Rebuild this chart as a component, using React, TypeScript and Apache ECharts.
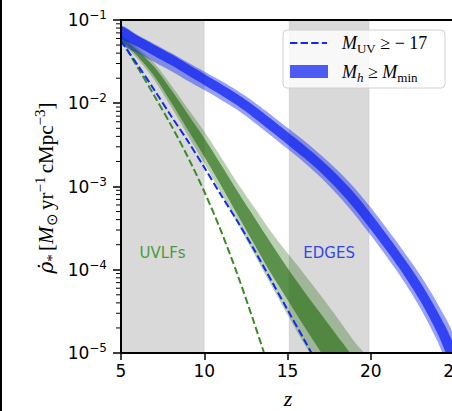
import React, { useEffect, useRef } from 'react';
import * as echarts from 'echarts';

// ---------- axes ----------
const X_MIN = 5;
const X_MAX = 25;
const X_STEP = 5;
const Y_MIN = 1e-5;
const Y_MAX = 1e-1;

// ---------- shaded redshift windows ----------
const WINDOW_START = [5, 15.1];
const WINDOW_END = [10, 19.9];
const WINDOW_TEXT = ['UVLFs', 'EDGES'];
const WINDOW_TEXT_Z = [7.5, 17.5];
const WINDOW_TEXT_Y = [1.6e-4, 1.6e-4];

// ---------- M_h >= M_min band (log10 of SFRD) ----------
const Z_BLUE = [5, 6, 7, 8, 9, 10, 11, 12, 13, 14, 15, 16, 17, 18, 19, 20, 21, 22, 23, 24, 25];
const BLUE_95_HI = [-1.07, -1.18, -1.288, -1.394, -1.507, -1.619, -1.731, -1.851, -1.988, -2.137, -2.295, -2.45, -2.621, -2.804, -3.011, -3.253, -3.513, -3.786, -4.072, -4.403, -4.815];
const BLUE_95_LO = [-1.285, -1.396, -1.506, -1.612, -1.729, -1.841, -1.957, -2.081, -2.23, -2.387, -2.548, -2.712, -2.892, -3.098, -3.329, -3.587, -3.857, -4.144, -4.468, -4.857, -5.305];
const BLUE_68_HI = [-1.078, -1.189, -1.299, -1.409, -1.529, -1.649, -1.769, -1.892, -2.033, -2.186, -2.346, -2.504, -2.677, -2.866, -3.079, -3.324, -3.588, -3.865, -4.158, -4.501, -4.92];
const BLUE_68_LO = [-1.21, -1.321, -1.431, -1.541, -1.661, -1.781, -1.901, -2.028, -2.177, -2.334, -2.494, -2.656, -2.833, -3.034, -3.261, -3.516, -3.782, -4.065, -4.382, -4.759, -5.2];

// ---------- UVLF band (log10 of SFRD) ----------
const Z_GREEN = [5, 6, 7, 8, 9, 10, 11, 12, 13, 14, 15, 16, 17, 18, 19, 20];
const GREEN_95_HI = [-1.185, -1.335, -1.52, -1.78, -2.06, -2.34, -2.645, -2.96, -3.25, -3.54, -3.8, -4.05, -4.31, -4.58, -4.86, -5.14];
const GREEN_95_LO = [-1.255, -1.465, -1.72, -2.04, -2.38, -2.72, -3.075, -3.44, -3.81, -4.18, -4.54, -4.89, -5.21, -5.52, -5.8, -6.1];
const GREEN_68_HI = [-1.2, -1.365, -1.565, -1.835, -2.125, -2.42, -2.735, -3.06, -3.37, -3.68, -3.98, -4.26, -4.53, -4.8, -5.06, -5.33];
const GREEN_68_LO = [-1.24, -1.435, -1.675, -1.985, -2.315, -2.64, -2.985, -3.34, -3.69, -4.04, -4.36, -4.68, -4.99, -5.3, -5.6, -5.91];

// ---------- dashed curves (log10 of SFRD) ----------
const Z_MUV = [5, 6, 7, 8, 9, 10, 11, 12, 13, 14, 15, 16, 17];
const MUV_LOG = [-1.25, -1.54, -1.84, -2.15, -2.45, -2.77, -3.1, -3.42, -3.76, -4.12, -4.48, -4.84, -5.2];
const Z_UVDASH = [5, 6, 7, 8, 9, 10, 11, 12, 13, 14];
const UVDASH_LOG = [-1.24, -1.57, -1.91, -2.26, -2.64, -3.06, -3.53, -4.06, -4.64, -5.25];

// ---------- log minor ticks ----------
const MINOR_MANTISSA = [2, 3, 4, 5, 6, 7, 8, 9];
const MINOR_DECADES = [1e-5, 1e-4, 1e-3, 1e-2];

// ---------- colours ----------
const GRAY = '#d9d9d9';
const BLUE_LIGHT = 'rgba(10,30,240,0.42)';
const BLUE_DARK = 'rgba(10,30,240,0.72)';
const GREEN_LIGHT = 'rgba(40,110,20,0.32)';
const GREEN_DARK = 'rgba(40,110,20,0.65)';
const BLUE_LINE = '#1428f0';
const GREEN_LINE = '#3a8a28';
const TEXT_COLORS = ['#4a9a3c', '#3347e6'];

const SERIF = 'Liberation Serif';
const SANS = 'DejaVu Sans';

function band(zs: number[], lo: number[], hi: number[], fill: string, z: number) {
  return {
    type: 'custom',
    z,
    clip: true,
    silent: true,
    data: [[zs[0], Math.pow(10, lo[0])]],
    renderItem: (_p: any, api: any) => {
      const pts: number[][] = [];
      for (let i = 0; i < zs.length; i++) pts.push(api.coord([zs[i], Math.pow(10, hi[i])]));
      for (let i = zs.length - 1; i >= 0; i--) pts.push(api.coord([zs[i], Math.pow(10, lo[i])]));
      return { type: 'polygon', shape: { points: pts, smooth: 0.3 }, style: { fill } };
    },
  };
}

function dashed(zs: number[], logs: number[], color: string, z: number) {
  return {
    type: 'line',
    z,
    silent: true,
    showSymbol: false,
    smooth: 0.3,
    data: zs.map((x, i) => [x, Math.pow(10, logs[i])]),
    lineStyle: { color, width: 2, type: [7.4, 3.2] },
  };
}

function buildOption() {
  const minorData: number[][] = [];
  MINOR_DECADES.forEach((d) => MINOR_MANTISSA.forEach((m) => minorData.push([X_MIN, m * d])));

  const subRich = {
    r: { fontFamily: SERIF, fontSize: 18, color: '#000', lineHeight: 24 },
    i: { fontFamily: SERIF, fontStyle: 'italic', fontSize: 18, color: '#000', lineHeight: 24 },
    sub: { fontFamily: SERIF, fontSize: 13, color: '#000', lineHeight: 14, verticalAlign: 'bottom' },
    subi: { fontFamily: SERIF, fontStyle: 'italic', fontSize: 13, color: '#000', lineHeight: 14, verticalAlign: 'bottom' },
  };

  const yRich = {
    rho: { fontFamily: 'DejaVu Serif', fontStyle: 'italic', fontSize: 20, color: '#000', lineHeight: 27 },
    r: { fontFamily: SERIF, fontSize: 21, color: '#000', lineHeight: 27 },
    i: { fontFamily: SERIF, fontStyle: 'italic', fontSize: 21, color: '#000', lineHeight: 27 },
    sub: { fontFamily: SERIF, fontSize: 15, color: '#000', lineHeight: 15, verticalAlign: 'bottom' },
    sup: { fontFamily: SERIF, fontSize: 15, color: '#000', lineHeight: 15, verticalAlign: 'top' },
  };

  const z = 100;

  return {
    animation: false,
    backgroundColor: '#ffffff',
    grid: { left: 121, top: 20, width: 333, height: 333, containLabel: false, outerBoundsMode: 'none' },
    xAxis: [
      {
        type: 'value',
        min: X_MIN,
        max: X_MAX,
        interval: X_STEP,
        position: 'bottom',
        axisLine: { show: true, onZero: false, lineStyle: { color: '#000', width: 2 } },
        axisTick: { show: true, length: 7, lineStyle: { color: '#000', width: 1.5 } },
        axisLabel: { color: '#000', fontSize: 17, fontFamily: SANS, margin: 9, showMaxLabel: true, showMinLabel: true },
        splitLine: { show: false },
        z: 10,
      },
      {
        type: 'value',
        min: X_MIN,
        max: X_MAX,
        interval: X_STEP,
        position: 'top',
        axisLine: { show: true, onZero: false, lineStyle: { color: '#000', width: 2 } },
        axisTick: { show: false },
        axisLabel: { show: false },
        splitLine: { show: false },
        z: 10,
      },
    ],
    yAxis: {
      type: 'log',
      logBase: 10,
      min: Y_MIN,
      max: Y_MAX,
      axisLine: { show: true, onZero: false, lineStyle: { color: '#000', width: 2 } },
      axisTick: { show: true, length: 8, lineStyle: { color: '#000', width: 1.5 } },
      axisLabel: {
        margin: 14,
        formatter: (v: number) => `{b|10}{s|−${Math.round(-Math.log10(v))}}`,
        rich: {
          b: { fontSize: 17, fontFamily: SANS, color: '#000', lineHeight: 22 },
          s: { fontSize: 12, fontFamily: SANS, color: '#000', lineHeight: 12, verticalAlign: 'top' },
        },
      },
      splitLine: { show: false },
      z: 10,
    },
    series: [
      {
        type: 'custom',
        z: 1,
        silent: true,
        clip: true,
        data: WINDOW_START.map((s, i) => [s, WINDOW_END[i]]),
        renderItem: (_p: any, api: any) => {
          const a = api.coord([api.value(0), Y_MAX]);
          const b = api.coord([api.value(1), Y_MIN]);
          return {
            type: 'rect',
            shape: { x: a[0], y: a[1], width: b[0] - a[0], height: b[1] - a[1] },
            style: { fill: GRAY, stroke: 'rgba(0,0,0,0.07)', lineWidth: 1 },
          };
        },
      },
      {
        type: 'custom',
        z: 2,
        silent: true,
        data: WINDOW_TEXT_Z.map((x, i) => [x, WINDOW_TEXT_Y[i]]),
        renderItem: (p: any, api: any) => {
          const c = api.coord([api.value(0), api.value(1)]);
          return {
            type: 'text',
            x: c[0],
            y: c[1],
            style: {
              text: WINDOW_TEXT[p.dataIndex],
              fill: TEXT_COLORS[p.dataIndex],
              fontSize: 15,
              fontFamily: SANS,
              align: 'center',
              verticalAlign: 'middle',
            },
          };
        },
      },
      band(Z_GREEN, GREEN_95_LO, GREEN_95_HI, GREEN_LIGHT, 3),
      band(Z_GREEN, GREEN_68_LO, GREEN_68_HI, GREEN_DARK, 4),
      band(Z_BLUE, BLUE_95_LO, BLUE_95_HI, BLUE_LIGHT, 5),
      band(Z_BLUE, BLUE_68_LO, BLUE_68_HI, BLUE_DARK, 6),
      dashed(Z_UVDASH, UVDASH_LOG, GREEN_LINE, 7),
      dashed(Z_MUV, MUV_LOG, BLUE_LINE, 8),
      {
        type: 'custom',
        z: 11,
        silent: true,
        clip: false,
        data: minorData,
        renderItem: (_p: any, api: any) => {
          const c = api.coord([api.value(0), api.value(1)]);
          return {
            type: 'line',
            shape: { x1: c[0] - 5, y1: c[1], x2: c[0] - 1, y2: c[1] },
            style: { stroke: '#000', lineWidth: 1 },
          };
        },
      },
    ],
    graphic: [
      { type: 'rect', z, shape: { x: 0, y: 0, width: 2, height: 411 }, style: { fill: '#000' } },
      {
        type: 'text',
        x: 46,
        y: 188,
        rotation: Math.PI / 2,
        z,
        style: {
          text: '{rho|ρ̇}{sub|*} {r|[}{i|M}{sub|⊙} {r|yr}{sup|−1} {r|cMpc}{sup|−3}{r|]}',
          rich: yRich,
          align: 'center',
          verticalAlign: 'middle',
        },
      },
      {
        type: 'text',
        x: 288,
        y: 398,
        z,
        style: {
          text: 'z',
          fontFamily: SERIF,
          fontStyle: 'italic',
          fontSize: 22,
          fill: '#000',
          align: 'center',
          verticalAlign: 'middle',
        },
      },
      {
        type: 'rect',
        z,
        shape: { x: 283, y: 30, width: 162, height: 58, r: 4 },
        style: { fill: 'rgba(255,255,255,0.8)', stroke: '#d0d0d0', lineWidth: 1 },
      },
      {
        type: 'line',
        z: z + 1,
        shape: { x1: 290, y1: 43, x2: 327, y2: 43 },
        style: { stroke: BLUE_LINE, lineWidth: 2, lineDash: [7.4, 3.2] },
      },
      {
        type: 'rect',
        z: z + 1,
        shape: { x: 290, y: 65, width: 38, height: 13 },
        style: { fill: 'rgba(10,30,240,0.72)' },
      },
      {
        type: 'text',
        z: z + 1,
        x: 342,
        y: 43,
        style: { text: '{i|M}{sub|UV}{r| ≥ − 17}', rich: subRich, verticalAlign: 'middle', align: 'left' },
      },
      {
        type: 'text',
        z: z + 1,
        x: 342,
        y: 72,
        style: { text: '{i|M}{subi|h}{r| ≥ }{i|M}{sub|min}', rich: subRich, verticalAlign: 'middle', align: 'left' },
      },
    ],
  };
}

export default function App() {
  const ref = useRef<HTMLDivElement>(null);
  useEffect(() => {
    document.body.style.margin = '0';
    const chart = echarts.init(ref.current as HTMLDivElement, null, { renderer: 'svg' });
    chart.setOption(buildOption() as any);
    return () => chart.dispose();
  }, []);
  return <div ref={ref} style={{ width: 452, height: 411 }} />;
}
